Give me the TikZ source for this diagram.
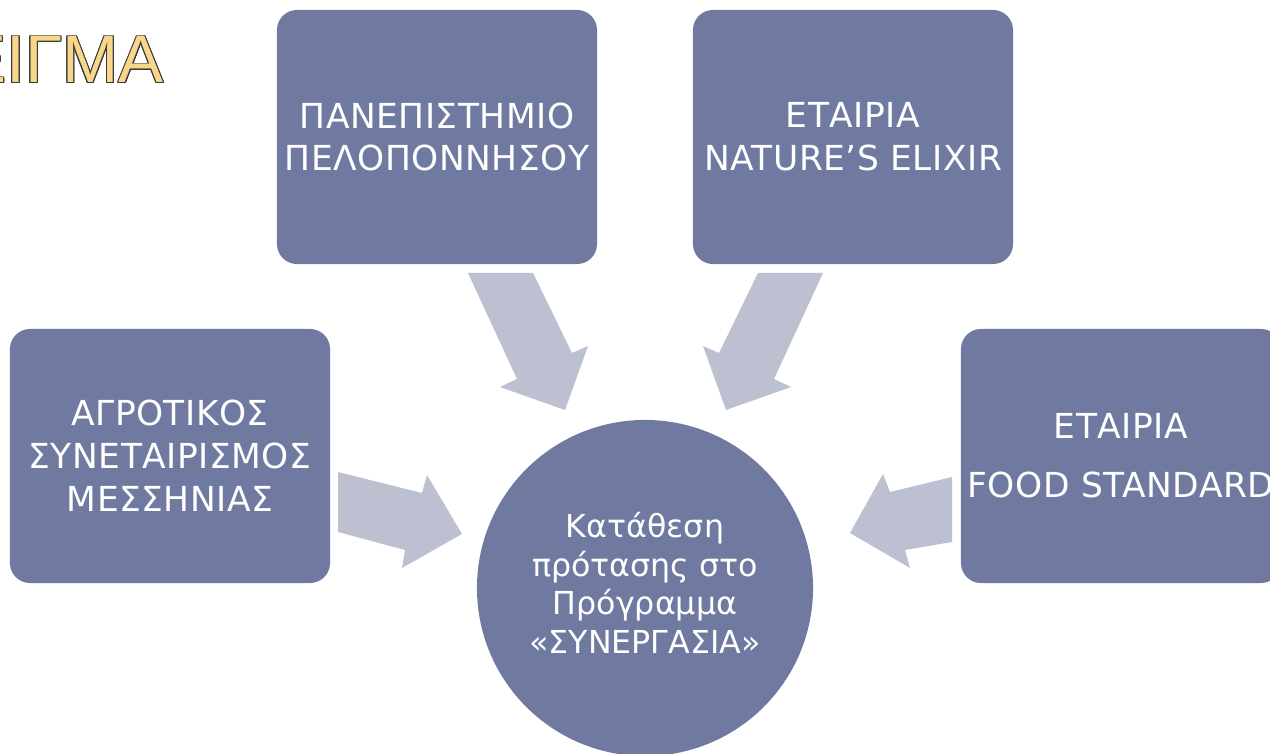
\documentclass[tikz,border=0pt]{standalone}
\usepackage{fontspec}
\setmainfont{DejaVu Sans}
\newfontfamily\boxfont[LetterSpace=1.5]{DejaVu Sans}
\newfontfamily\circfont{DejaVu Sans}
\newfontfamily\titlefont{Liberation Sans}
\usepackage{contour}
\contourlength{0.6pt}
\definecolor{boxfill}{HTML}{707AA0}
\definecolor{arrowfill}{HTML}{BCC0D0}
\definecolor{titlegold}{HTML}{F8D68A}
\definecolor{titleline}{HTML}{3A3A3A}
\begin{document}
\begin{tikzpicture}[x=0.025cm,y=-0.025cm,
  partner/.style={draw=none,fill=boxfill,rounded corners=0.5cm,minimum width=8cm,minimum height=6.35cm,
    text=white,align=center,font=\boxfont\fontsize{24.5}{30.5}\selectfont,inner sep=0pt},
  widelines/.style={font=\boxfont\fontsize{24.5}{42}\selectfont},
  goal/.style={draw=none,fill=boxfill,circle,minimum size=8.4cm,text=white,align=center,
    font=\circfont\fontsize{22.5}{27.4}\selectfont,inner sep=0pt},
  blockarrow/.style={fill=arrowfill,draw=none}]
\useasboundingbox (0,0) rectangle (1270,754);
\clip (0,0) rectangle (1270,754);
% title
\node[anchor=base east,inner sep=0pt,font=\titlefont\fontsize{48}{50}\selectfont] (title) at (164,83)
  {\contour{titleline}{\textcolor{titlegold}{ΕΙΓΜΑ}}};
% arrows
\fill[blockarrow] (468,273) -- (533,273) -- (572,353) -- (588,346) -- (565,410) -- (500,387) -- (517,379) -- cycle;
\fill[blockarrow] (823,273) -- (758,273) -- (719,353) -- (703,346) -- (726,410) -- (791,387) -- (774,379) -- cycle;
\fill[blockarrow] (338,472) -- (422,493) -- (427,475) -- (462,534) -- (402,568) -- (405,550) -- (338,532) -- cycle;
\fill[blockarrow] (952,477) -- (890,492) -- (883,474) -- (850,533) -- (910,568) -- (905,550) -- (952,542) -- cycle;
% boxes
\node[partner] (agro) at (170,456) {ΑΓΡΟΤΙΚΟΣ\\ΣΥΝΕΤΑΙΡΙΣΜΟΣ\\ΜΕΣΣΗΝΙΑΣ};
\node[partner] (uni) at (437,137) {ΠΑΝΕΠΙΣΤΗΜΙΟ\\ΠΕΛΟΠΟΝΝΗΣΟΥ};
\node[partner] (nature) at (853,137) {ΕΤΑΙΡΙΑ\\NATURE’S ELIXIR};
\node[partner,widelines] (food) at (1121,456) {ΕΤΑΙΡΙΑ\\FOOD STANDARD};
\node[goal] (prog) at (645,588) {};
\node[align=center,text=white,inner sep=0pt,font=\circfont\fontsize{22.5}{27.4}\selectfont] (progtext) at (645,583)
  {Κατάθεση\\πρότασης στο\\Πρόγραμμα\\«ΣΥΝΕΡΓΑΣΙΑ»};
\end{tikzpicture}
\end{document}
